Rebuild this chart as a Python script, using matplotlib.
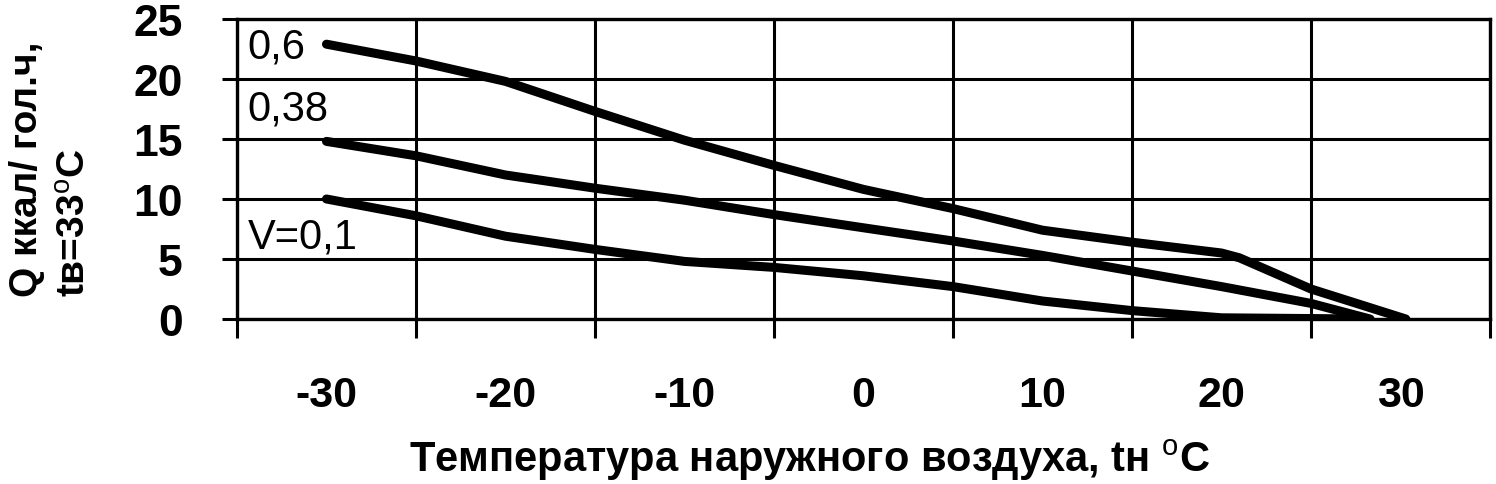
import numpy as np
import matplotlib
matplotlib.use("Agg")
import matplotlib.pyplot as plt

plt.rcParams['font.family'] = ['Liberation Sans', 'DejaVu Sans']
plt.rcParams['mathtext.fontset'] = 'custom'
plt.rcParams['mathtext.rm'] = 'Liberation Sans'
plt.rcParams['mathtext.bf'] = 'Liberation Sans:bold'

# outdoor temperature, deg C
t_06 = [-30, -25, -20, -15, -10, -5, 0, 5, 10, 15, 20, 21, 25, 30.3]
q_06 = [22.9, 21.5, 19.8, 17.3, 14.9, 12.8, 10.8, 9.2, 7.4, 6.4, 5.5, 5.1, 2.5, 0]

t_038 = [-30, -25, -20, -15, -10, -5, 0, 5, 10, 15, 20, 25, 28.3]
q_038 = [14.8, 13.6, 12.0, 10.9, 9.9, 8.7, 7.6, 6.5, 5.3, 4.0, 2.7, 1.3, 0]

t_01 = [-30, -25, -20, -15, -10, -5, 0, 5, 10, 15, 20, 28]
q_01 = [10.0, 8.6, 6.9, 5.8, 4.8, 4.3, 3.6, 2.7, 1.5, 0.7, 0.1, 0]

curve_labels = ["0,6", "0,38", "V=0,1"]
label_pos = [(-34.4, 22.7), (-34.4, 17.5), (-34.4, 6.9)]

x_labels = ["-30", "-20", "-10", "0", "10", "20", "30"]
x_label_pos = [-30, -20, -10, 0, 10, 20, 30]
y_ticks = [0, 5, 10, 15, 20, 25]

fig = plt.figure(figsize=(14.96, 4.85), dpi=100)
ax = fig.add_axes([0.1584, 0.3402, 0.8376, 0.6186])

for t, q in [(t_06, q_06), (t_038, q_038), (t_01, q_01)]:
    ax.plot(t, q, color='black', lw=6.5, solid_capstyle='round', zorder=3)

for txt, (x, y) in zip(curve_labels, label_pos):
    ax.text(x, y, txt, fontsize=30, ha='left', va='center', zorder=4)

ax.set_xlim(-35, 35)
ax.set_ylim(0, 25)
ax.set_xticks(np.arange(-35, 36, 10))
ax.set_xticklabels([])
ax.set_xticks(x_label_pos, minor=True)
ax.set_xticklabels(x_labels, minor=True, fontsize=31, fontweight='bold')
ax.set_yticks(y_ticks)
ax.set_yticklabels([str(v) for v in y_ticks], fontsize=32, fontweight='bold')

ax.tick_params(axis='x', which='major', length=14, width=2.2, direction='out')
ax.tick_params(axis='x', which='minor', length=0, pad=40)
ax.tick_params(axis='y', length=11, width=2.2, direction='out', pad=28)
ax.grid(True, which='major', color='black', lw=2.2)
for s in ax.spines.values():
    s.set_linewidth(2.4)
    s.set_color('black')

fig.text(0.5414, 0.0515, "Температура наружного воздуха, tн $^{\\mathrm{o}}$C",
         fontsize=30, fontweight='bold', ha='center', va='center')
fig.text(0.018, 0.388, "Q ккал/ гол.ч,", fontsize=28, fontweight='bold',
         rotation=90, ha='center', va='bottom')
fig.text(0.05, 0.388, "tв=33$^{\\mathrm{o}}$C", fontsize=28, fontweight='bold',
         rotation=90, ha='center', va='bottom')

fig.savefig("out.png", dpi=100)
